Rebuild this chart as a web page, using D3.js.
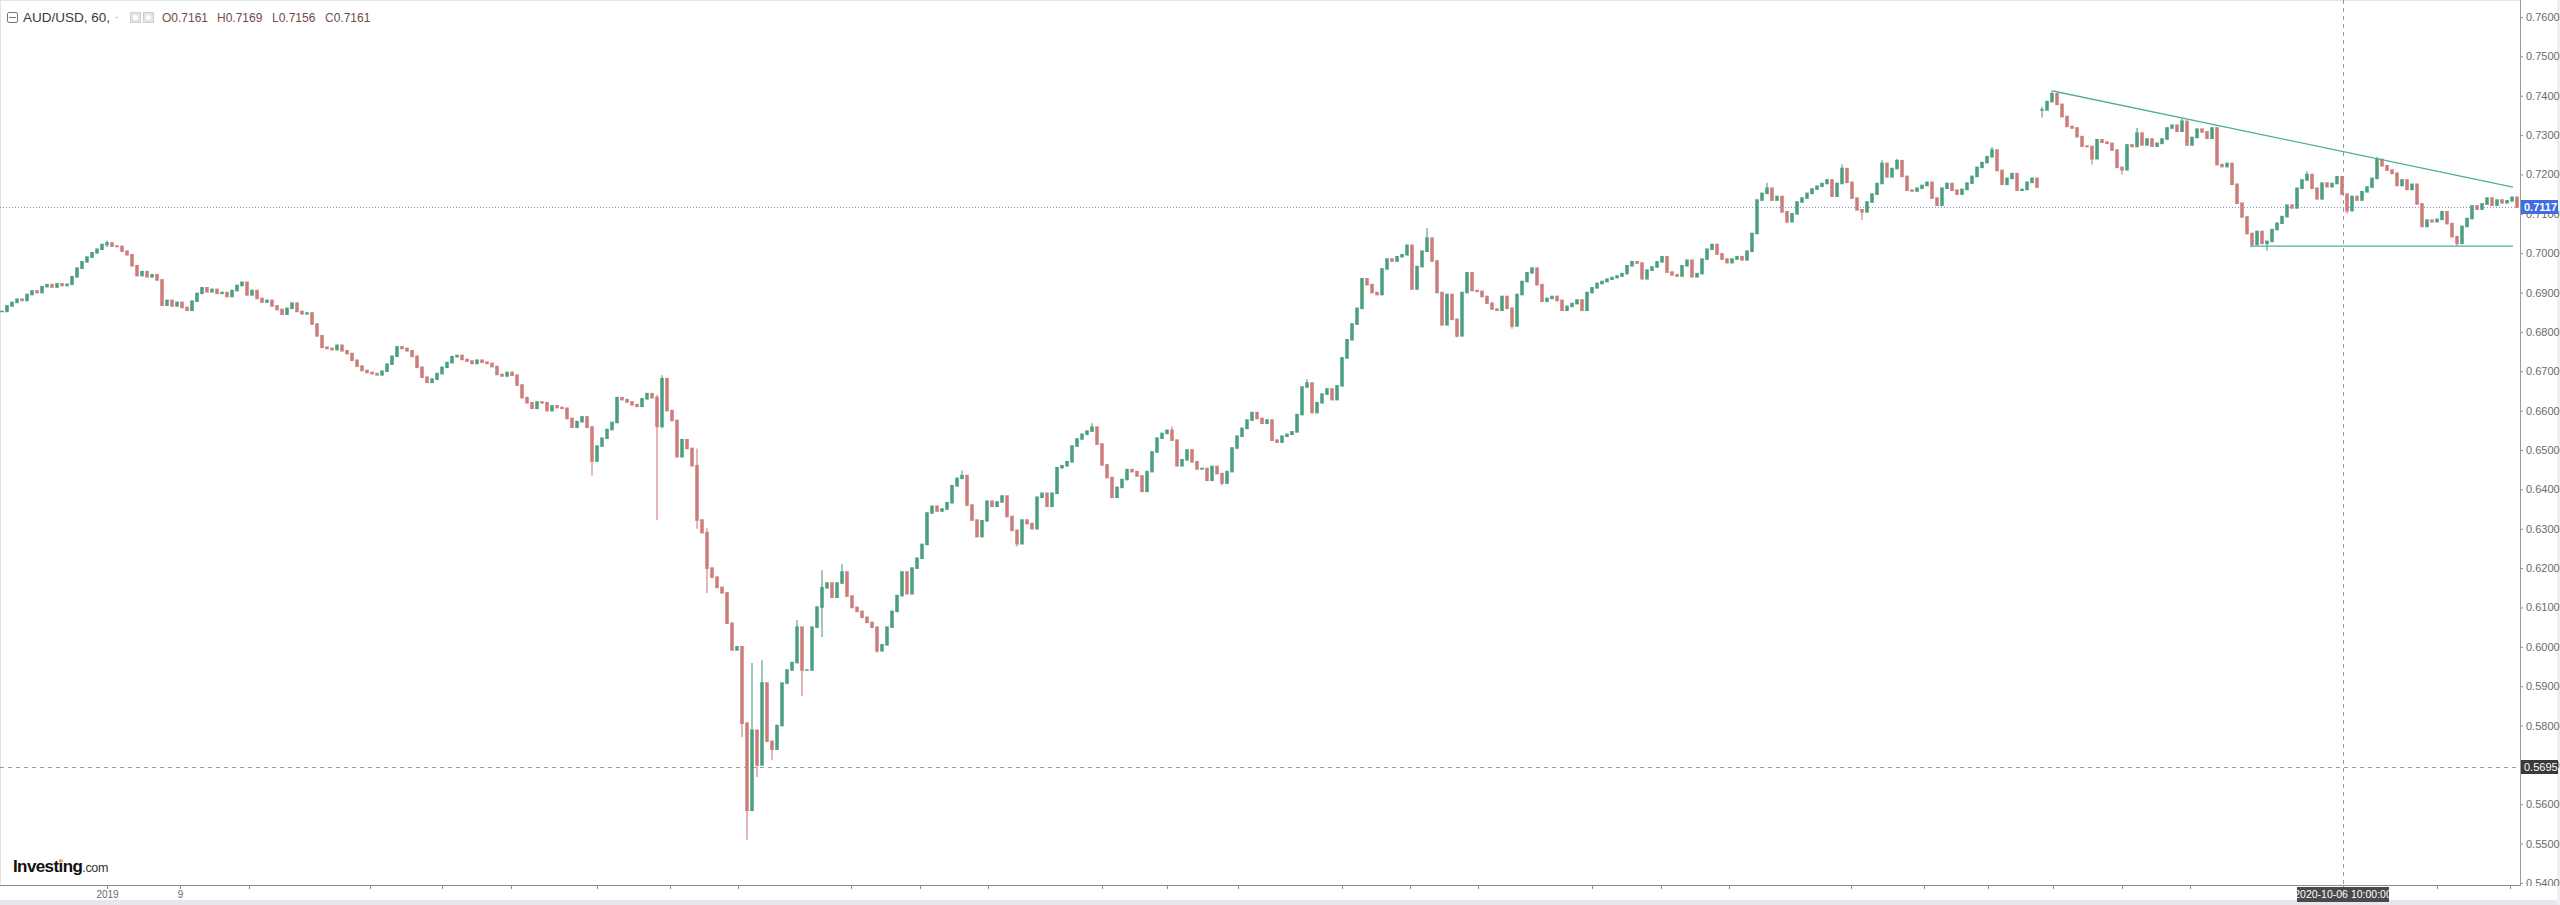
<!DOCTYPE html>
<html><head><meta charset="utf-8">
<script src="https://cdn.jsdelivr.net/npm/d3@7"></script>
<style>
html,body{margin:0;padding:0;background:#fff;overflow:hidden;}
svg{display:block;}
text{font-family:"Liberation Sans",Arial,sans-serif;}
</style></head><body>
<svg id="chart" width="2560" height="905"></svg>
<script>
// ---------- DATA ----------
const symbol = "AUD/USD, 60,";
const legendLabels = ["O", "H", "L", "C"];
const legendValues = ["0.7161", "0.7169", "0.7156", "0.7161"];

// hourly AUD/USD closes, sampled; first segment
const closes1 = [
0.6852,0.6866,0.6875,0.6883,0.6880,0.6895,0.6904,0.6900,0.6915,0.6920,
0.6914,0.6922,0.6918,0.6921,0.6940,0.6962,0.6978,0.6990,0.7001,0.7010,
0.7022,0.7026,0.7018,0.7017,0.7005,0.6996,0.6968,0.6943,0.6953,0.6940,
0.6945,0.6932,0.6868,0.6880,0.6866,0.6875,0.6862,0.6855,0.6878,0.6898,
0.6912,0.6902,0.6908,0.6898,0.6900,0.6890,0.6905,0.6918,0.6926,0.6894,
0.6905,0.6885,0.6876,0.6880,0.6866,0.6857,0.6845,0.6860,0.6873,0.6852,
0.6846,0.6848,0.6820,0.6790,0.6761,0.6758,0.6755,0.6766,0.6752,0.6745,
0.6728,0.6713,0.6702,0.6697,0.6694,0.6691,0.6700,0.6718,0.6738,0.6762,
0.6758,0.6752,0.6738,0.6710,0.6685,0.6672,0.6680,0.6694,0.6710,0.6722,
0.6737,0.6740,0.6730,0.6726,0.6720,0.6728,0.6723,0.6720,0.6712,0.6692,
0.6688,0.6697,0.6690,0.6665,0.6633,0.6620,0.6606,0.6622,0.6620,0.6600,
0.6612,0.6608,0.6606,0.6580,0.6558,0.6572,0.6584,0.6558,0.6472,0.6510,
0.6530,0.6552,0.6570,0.6633,0.6628,0.6622,0.6615,0.6611,0.6630,0.6643,
0.6633,0.6560,0.6681,0.6600,0.6575,0.6483,0.6526,0.6504,0.6460,0.6322,
0.6290,0.6200,0.6177,0.6151,0.6137,0.6060,0.5992,0.6000,0.5806,0.5585,
0.5788,0.5700,0.5908,0.5760,0.5740,0.5800,0.5908,0.5941,0.5960,0.6050,
0.5941,0.5941,0.6050,0.6101,0.6150,0.6162,0.6126,0.6162,0.6190,0.6129,
0.6100,0.6090,0.6075,0.6062,0.6050,0.5990,0.6005,0.6050,0.6090,0.6130,
0.6190,0.6135,0.6200,0.6225,0.6260,0.6340,0.6357,0.6345,0.6350,0.6366,
0.6409,0.6428,0.6435,0.6360,0.6322,0.6280,0.6320,0.6370,0.6357,0.6368,
0.6383,0.6331,0.6296,0.6262,0.6322,0.6313,0.6300,0.6380,0.6390,0.6357,
0.6390,0.6455,0.6460,0.6470,0.6510,0.6528,0.6540,0.6548,0.6558,0.6515,
0.6462,0.6430,0.6380,0.6405,0.6425,0.6450,0.6445,0.6434,0.6395,0.6445,
0.6495,0.6530,0.6542,0.6550,0.6525,0.6460,0.6475,0.6500,0.6470,0.6452,
0.6453,0.6423,0.6458,0.6440,0.6416,0.6445,0.6505,0.6535,0.6555,0.6576,
0.6595,0.6580,0.6568,0.6576,0.6525,0.6520,0.6535,0.6540,0.6546,0.6590,
0.6660,0.6670,0.6595,0.6620,0.6642,0.6655,0.6628,0.6663,0.6734,0.6780,
0.6820,0.6860,0.6935,0.6920,0.6900,0.6895,0.6960,0.6985,0.6980,0.6991,
0.6996,0.7020,0.6909,0.6966,0.7005,0.7038,0.6980,0.6900,0.6818,0.6895,
0.6832,0.6790,0.6900,0.6950,0.6905,0.6903,0.6890,0.6873,0.6858,0.6855,
0.6890,0.6860,0.6815,0.6895,0.6928,0.6950,0.6962,0.6920,0.6878,0.6885,
0.6890,0.6880,0.6855,0.6865,0.6872,0.6881,0.6855,0.6900,0.6912,0.6923,
0.6928,0.6934,0.6938,0.6942,0.6948,0.6968,0.6978,0.6975,0.6935,0.6957,
0.6965,0.6978,0.6991,0.6952,0.6945,0.6942,0.6968,0.6982,0.6940,0.6948,
0.6985,0.7010,0.7022,0.6998,0.6985,0.6976,0.6985,0.6991,0.6983,0.7005,
0.7050,0.7135,0.7152,0.7165,0.7135,0.7144,0.7105,0.7080,0.7100,0.7130,
0.7140,0.7152,0.7163,0.7170,0.7177,0.7186,0.7145,0.7177,0.7215,0.7180,
0.7140,0.7110,0.7105,0.7130,0.7150,0.7177,0.7228,0.7194,0.7215,0.7235,
0.7195,0.7160,0.7158,0.7165,0.7172,0.7180,0.7140,0.7122,0.7165,0.7177,
0.7160,0.7150,0.7162,0.7178,0.7195,0.7218,0.7230,0.7245,0.7262,0.7210,
0.7175,0.7190,0.7202,0.7160,0.7162,0.7180,0.7190,0.7168
];
// second segment (after the data jump)
const segment2Start = 408;
const closes2 = [
0.7364,0.7385,0.7405,0.7378,0.7347,0.7322,0.7318,0.7296,0.7272,0.7271,
0.7240,0.7288,0.7282,0.7279,0.7262,0.7218,0.7212,0.7275,0.7271,0.7305,
0.7275,0.7290,0.7272,0.7279,0.7290,0.7318,0.7325,0.7310,0.7335,0.7275,
0.7294,0.7315,0.7308,0.7292,0.7318,0.7225,0.7220,0.7228,0.7175,0.7127,
0.7092,0.7050,0.7022,0.7055,0.7025,0.7030,0.7060,0.7076,0.7093,0.7122,
0.7115,0.7165,0.7186,0.7200,0.7165,0.7138,0.7178,0.7169,0.7177,0.7194,
0.7150,0.7108,0.7144,0.7135,0.7156,0.7168,0.7190,0.7238,0.7222,0.7211,
0.7203,0.7172,0.7186,0.7162,0.7175,0.7125,0.7068,0.7084,0.7080,0.7086,
0.7105,0.7075,0.7042,0.7025,0.7068,0.7088,0.7120,0.7112,0.7125,0.7140,
0.7122,0.7135,0.7128,0.7133,0.7142,0.7117
];
// visible wicks: [candle index, high, low]
const wickIndex = [21,118,131,132,139,141,148,149,150,151,152,154,159,160,164,168,175,192,203,218,234,244,261,285,291,302,353,357,368,372,376,379,398,408,410,418,424,427,436,450,453,461,469,475,491];
const wickHigh  = [0.7032,0.6560,0.6640,0.6690,0.6504,0.6301,0.6000,0.5806,0.5959,0.5788,0.5966,0.5760,0.6068,0.6050,0.6195,0.6210,0.6050,0.6448,0.6296,0.6568,0.6560,0.6440,0.6680,0.7064,0.6832,0.6860,0.7179,0.7105,0.7225,0.7110,0.7236,0.7240,0.7270,0.7372,0.7414,0.7271,0.7218,0.7318,0.7342,0.7050,0.7030,0.7208,0.7150,0.7245,0.7042];
const wickLow   = [0.7016,0.6435,0.6322,0.6555,0.6300,0.6137,0.5771,0.5510,0.5585,0.5669,0.5700,0.5712,0.5960,0.5875,0.6025,0.6162,0.5985,0.6428,0.6255,0.6548,0.6525,0.6410,0.6660,0.7005,0.6786,0.6808,0.7152,0.7076,0.7177,0.7084,0.7177,0.7215,0.7245,0.7345,0.7385,0.7225,0.7200,0.7271,0.7310,0.7015,0.7006,0.7186,0.7100,0.7190,0.7018];

const priceTicks = [0.54,0.55,0.56,0.57,0.58,0.59,0.60,0.61,0.62,0.63,0.64,0.65,0.66,0.67,0.68,0.69,0.70,0.71,0.72,0.73,0.74,0.75,0.76];
const timeTicks = [21,35.6,49.4,73.6,88,101.8,119,133.6,147.2,169.8,183.6,197.2,220,233,247.2,268,281.6,295.2,318,331.8,345.4,369.8,384.4,397.2,410.2,424,437.6,468.2,487,501.6];
const timeTickLabels = ["2019","9","","","","","","","","","","","","","","","","","","","","","","","","","","","",""];

const lastPrice = 0.7117;
const crossPrice = 0.5695;
const crossIndex = 468.2;
const crossLabel = "2020-10-06 10:00:00";
const trendUpper = [[410.2, 0.7412], [502.2, 0.7168]];
const trendLower = [[449.6, 0.7018], [502.2, 0.7018]];

// ---------- LAYOUT ----------
const W = 2560, H = 905;
const plotRight = 2520, plotBottom = 885;
const upColor = "#4a9f80", downColor = "#cc7c7a";

const svg = d3.select("#chart");
const x = d3.scaleLinear().domain([0, 503]).range([2, 2517]);
const y = d3.scaleLinear().domain([0.54, 0.76]).range([883, 17]);
const step = x(1) - x(0);
const bodyW = step * 0.7;

svg.append("rect").attr("width", W).attr("height", H).attr("fill", "#fff");
svg.append("rect").attr("x", 0).attr("y", 900).attr("width", W).attr("height", 5).attr("fill", "#e7e8eb");
svg.append("rect").attr("x", 2557).attr("y", 0).attr("width", 3).attr("height", H).attr("fill", "#eeeff1");

const defs = svg.append("defs");
defs.append("clipPath").attr("id", "plotClip").append("rect")
  .attr("x", 0).attr("y", 0).attr("width", plotRight).attr("height", plotBottom);
defs.append("clipPath").attr("id", "axisClip").append("rect")
  .attr("x", plotRight).attr("y", 0).attr("width", 40).attr("height", plotBottom + 1);

// frame lines
svg.append("line").attr("x1", 0).attr("x2", plotRight).attr("y1", 0.5).attr("y2", 0.5).attr("stroke", "#e3e3e3");
svg.append("line").attr("x1", 0.5).attr("x2", 0.5).attr("y1", 0).attr("y2", plotBottom).attr("stroke", "#e3e3e3");

const plot = svg.append("g").attr("clip-path", "url(#plotClip)");

// last price dotted line
plot.append("line").attr("x1", 0).attr("x2", plotRight)
  .attr("y1", Math.round(y(lastPrice)) + 0.5).attr("y2", Math.round(y(lastPrice)) + 0.5)
  .attr("stroke", "#7b93d4").attr("stroke-width", 1).attr("stroke-dasharray", "1,2");

// crosshair
plot.append("line").attr("x1", 0).attr("x2", plotRight)
  .attr("y1", Math.round(y(crossPrice)) + 0.5).attr("y2", Math.round(y(crossPrice)) + 0.5)
  .attr("stroke", "#9a9a9a").attr("stroke-dasharray", "4,4");
plot.append("line").attr("y1", 0).attr("y2", plotBottom)
  .attr("x1", Math.round(x(crossIndex)) + 0.5).attr("x2", Math.round(x(crossIndex)) + 0.5)
  .attr("stroke", "#9a9a9a").attr("stroke-dasharray", "4,4");

// candles
const candles = [];
closes1.forEach((c, k) => candles.push({ i: k, o: k === 0 ? c : closes1[k - 1], c }));
closes2.forEach((c, k) => candles.push({ i: segment2Start + k, o: k === 0 ? c : closes2[k - 1], c }));
const wk = new Map(wickIndex.map((idx, k) => [idx, [wickHigh[k], wickLow[k]]]));
candles.forEach(d => {
  const w = wk.get(d.i);
  d.h = Math.max(d.o, d.c, w ? w[0] : -Infinity);
  d.l = Math.min(d.o, d.c, w ? w[1] : Infinity);
  d.up = d.c >= d.o;
});

const cg = plot.append("g");
cg.selectAll("line.wick").data(candles).join("line").attr("class", "wick")
  .attr("x1", d => x(d.i)).attr("x2", d => x(d.i))
  .attr("y1", d => y(d.h)).attr("y2", d => y(d.l))
  .attr("stroke", d => d.up ? upColor : downColor).attr("stroke-width", 1.1);
cg.selectAll("rect.body").data(candles).join("rect").attr("class", "body")
  .attr("x", d => x(d.i) - bodyW / 2).attr("width", bodyW)
  .attr("y", d => Math.min(y(d.o), y(d.c)) - 0.8)
  .attr("height", d => Math.abs(y(d.o) - y(d.c)) + 1.6)
  .attr("fill", d => d.up ? upColor : downColor);

// trend lines
[trendUpper, trendLower].forEach(t => {
  plot.append("line")
    .attr("x1", x(t[0][0])).attr("y1", y(t[0][1]))
    .attr("x2", x(t[1][0])).attr("y2", y(t[1][1]))
    .attr("stroke", "#52ad9c").attr("stroke-width", 1.3);
});

// right price axis
const ra = svg.append("g").attr("clip-path", "url(#axisClip)")
  .append("g").attr("transform", `translate(${plotRight},0)`)
  .call(d3.axisRight(y).tickValues(priceTicks).tickSize(3).tickPadding(3).tickFormat(d3.format(".4f")));
ra.select(".domain").remove();
ra.selectAll(".tick line").attr("stroke", "#8c8c8c");
ra.selectAll(".tick text").attr("fill", "#6b6b6b").style("font-size", "11px")
  .style("font-family", "'Liberation Sans',Arial,sans-serif");
svg.append("line").attr("x1", plotRight + 0.5).attr("x2", plotRight + 0.5).attr("y1", 0).attr("y2", plotBottom + 1)
  .attr("stroke", "#9a9a9a").attr("stroke-width", 1);

// bottom time axis
const ba = svg.append("g").attr("transform", `translate(0,${plotBottom})`)
  .call(d3.axisBottom(x).tickValues(timeTicks).tickSize(4).tickPadding(2).tickFormat((d, k) => timeTickLabels[k]));
ba.select(".domain").remove();
ba.selectAll(".tick line").attr("stroke", "#8c8c8c");
ba.selectAll(".tick text").attr("fill", "#6b6b6b").style("font-size", "10px")
  .style("font-family", "'Liberation Sans',Arial,sans-serif");
svg.append("line").attr("x1", 0).attr("x2", plotRight + 1).attr("y1", plotBottom + 0.5).attr("y2", plotBottom + 0.5)
  .attr("stroke", "#8c8c8c").attr("stroke-width", 1);

// price labels on axis (box drawn over the regular tick label it shares a row with)
function priceBox(p, fill, bold) {
  const yy = Math.round(y(p));
  svg.append("rect").attr("x", plotRight + 1).attr("y", yy - 7).attr("width", 37).attr("height", 14).attr("fill", fill);
  svg.append("text").attr("x", plotRight + 4).attr("y", yy + 4).attr("fill", "#fff")
    .style("font-size", "11px").style("font-weight", bold ? "bold" : "normal").text(d3.format(".4f")(p));
}
priceBox(lastPrice, "#3f6ee0", true);
priceBox(crossPrice, "#3a3a3a", false);

// crosshair time label
{
  const cx = Math.round(x(crossIndex));
  svg.append("rect").attr("x", cx - 46).attr("y", plotBottom + 2).attr("width", 92).attr("height", 15).attr("fill", "#4a4a4a");
  svg.append("text").attr("x", cx).attr("y", plotBottom + 13).attr("text-anchor", "middle").attr("fill", "#fff")
    .style("font-size", "10.5px").text(crossLabel);
}

// legend
const lg = svg.append("g");
lg.append("rect").attr("x", 7.5).attr("y", 12.5).attr("width", 10).attr("height", 10).attr("fill", "none").attr("stroke", "#777").attr("rx", 1.5);
lg.append("line").attr("x1", 9).attr("x2", 16).attr("y1", 17.5).attr("y2", 17.5).attr("stroke", "#777");
lg.append("text").attr("x", 23).attr("y", 22).attr("fill", "#3a3a3a").style("font-size", "13.5px").text(symbol);
lg.append("text").attr("x", 115).attr("y", 20).attr("fill", "#aaa").style("font-size", "9px").text("-");
[130, 143].forEach(px => {
  lg.append("rect").attr("x", px + 0.5).attr("y", 12.5).attr("width", 10).attr("height", 10).attr("fill", "#e4e4e4").attr("stroke", "#cfcfcf");
  lg.append("circle").attr("cx", px + 5.5).attr("cy", 17.5).attr("r", 2.5).attr("fill", "#fff");
});
const ohlcX = [162, 217, 272, 325];
legendLabels.forEach((lab, k) => {
  const t = lg.append("text").attr("x", ohlcX[k]).attr("y", 22).style("font-size", "12px");
  t.append("tspan").attr("fill", "#6e5652").text(lab);
  t.append("tspan").attr("fill", "#6e4a45").text(legendValues[k]);
});

// Investing.com logo
{
  const t = svg.append("text").attr("x", 13).attr("y", 872);
  t.append("tspan").style("font-size", "17px").style("font-weight", "bold").attr("fill", "#111").style("letter-spacing", "-0.6px").text("Investing");
  t.append("tspan").style("font-size", "12.5px").attr("fill", "#333").style("letter-spacing", "-0.3px").text(".com");
  const node = t.node();
  const ext = node.getExtentOfChar(6);
  svg.append("rect").attr("x", ext.x + ext.width / 2 - 1.6).attr("y", 872 - 12.6).attr("width", 3.4).attr("height", 3)
    .attr("fill", "#f5a623");
}
</script>
</body></html>
